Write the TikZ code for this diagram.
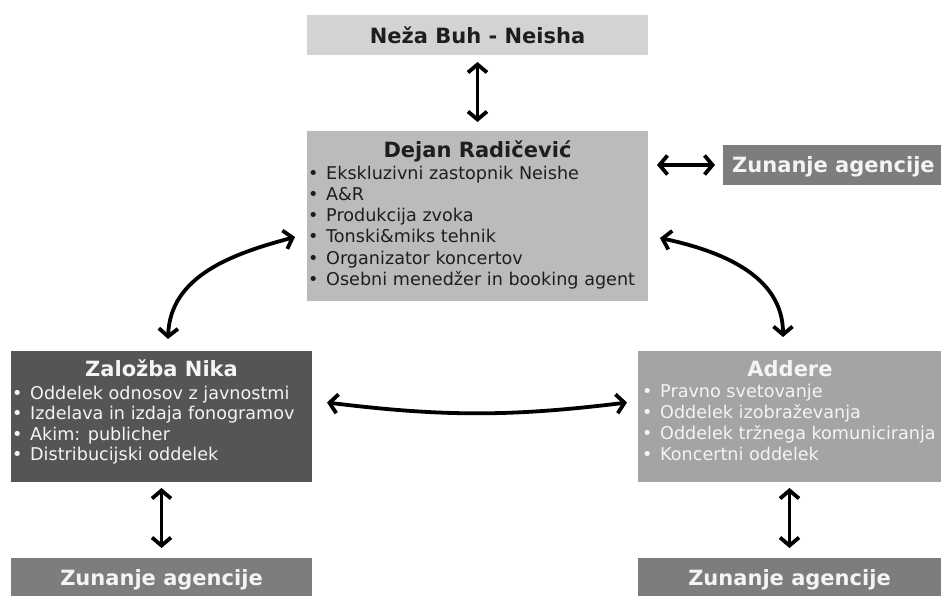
\documentclass[tikz,border=0pt]{standalone}
\usepackage{fontspec}
\setmainfont{DejaVu Sans}
\usetikzlibrary{arrows.meta,calc}
\definecolor{cNeza}{HTML}{D3D3D3}
\definecolor{cDejan}{HTML}{BBBBBB}
\definecolor{cZun}{HTML}{7D7D7D}
\definecolor{cZal}{HTML}{555555}
\definecolor{cAdd}{HTML}{A4A4A4}
\definecolor{cDark}{HTML}{1E1E1E}
\definecolor{cLight}{HTML}{F4F4F4}
\newcommand{\bl}[1]{\makebox[18pt][l]{•}#1}
\tikzset{
  box/.style={draw=none, anchor=north west, inner sep=0pt, outer sep=0pt},
  head/.style={anchor=base, inner sep=0pt, font=\fontsize{21}{24}\selectfont\bfseries},
  list/.style={anchor=north west, inner sep=0pt, align=left},
  arr/.style={line width=3.8pt, line cap=round,
    {Straight Barb[length=8pt,width=19pt]}-{Straight Barb[length=8pt,width=19pt]}}
}
\begin{document}
\begin{tikzpicture}[x=1pt,y=1pt]
\useasboundingbox (0,0) rectangle (941,-595);
% boxes
\node[box, fill=cNeza, minimum width=341, minimum height=40] (neza) at (307,-15) {};
\node[box, fill=cDejan, minimum width=341, minimum height=170] (dejan) at (307,-131) {};
\node[box, fill=cZun, minimum width=230, minimum height=40] (zr) at (723,-145) {};
\node[box, fill=cZal, minimum width=301, minimum height=131] (zal) at (11,-351) {};
\node[box, fill=cAdd, minimum width=303, minimum height=131] (add) at (638,-351) {};
\node[box, fill=cZun, minimum width=301, minimum height=45] (zbl) at (11,-558) {};
\node[box, fill=cZun, minimum width=303, minimum height=45] (zbr) at (638,-558) {};
% texts
\node[head, text=cDark] (nezaT) at (477.5,-43) {Neža Buh - Neisha};
\node[head, text=cDark] (dejanH) at (477.5,-157) {Dejan Radičević};
\node[list, text=cDark, font=\fontsize{17.6}{21.2}\selectfont] (dejanL) at (308,{-(179-14.84)}) {\strut\bl{Ekskluzivni zastopnik Neishe}\\
\bl{A\&R}\\
\bl{Produkcija zvoka}\\
\bl{Tonski\&miks tehnik}\\
\bl{Organizator koncertov}\\
\bl{Osebni menedžer in booking agent}};
\node[head, text=cLight, anchor=base west] (zrT) at (732,-172) {Zunanje agencije};
\node[head, text=cLight] (zalH) at (161.5,-376) {Založba Nika};
\node[list, text=cLight, font=\fontsize{17.6}{20.5}\selectfont] (zalL) at (12,{-(399-14.35)}) {\strut\bl{Oddelek odnosov z javnostmi}\\
\bl{Izdelava in izdaja fonogramov}\\
\bl{Akim: publicher}\\
\bl{Distribucijski oddelek}};
\node[head, text=cLight] (addH) at (790,-376) {Addere};
\node[list, text=cLight, font=\fontsize{17.6}{21}\selectfont] (addL) at (642,{-(397-14.7)}) {\strut\bl{Pravno svetovanje}\\
\bl{Oddelek izobraževanja}\\
\bl{Oddelek tržnega komuniciranja}\\
\bl{Koncertni oddelek}};
\node[head, text=cLight] (zblT) at (161.5,-585) {Zunanje agencije};
\node[head, text=cLight] (zbrT) at (789.5,-585) {Zunanje agencije};
% arrows
\draw[arr, shorten <=7pt, shorten >=9pt] (neza.south) -- (dejan.north);
\draw[arr, shorten <=9pt, shorten >=8pt] (dejan.east |- zr.west) -- (zr.west);
\draw[arr] ([shift={(6.5,12)}]zal.north) to[out=88,in=195] ([shift={(-12,-21)}]dejan.west);
\draw[arr] ([shift={(12,-22)}]dejan.east) to[out=-12,in=90] ([shift={(-6.5,14)}]add.north);
\draw[arr] ([shift={(15,14)}]zal.east) to[bend right=7] ([shift={(-11,14)}]add.west);
\draw[arr, shorten <=6pt, shorten >=10pt] (zal.south) -- (zbl.north);
\draw[arr, shorten <=6pt, shorten >=10pt] (add.south) -- (zbr.north);
\end{tikzpicture}
\end{document}
